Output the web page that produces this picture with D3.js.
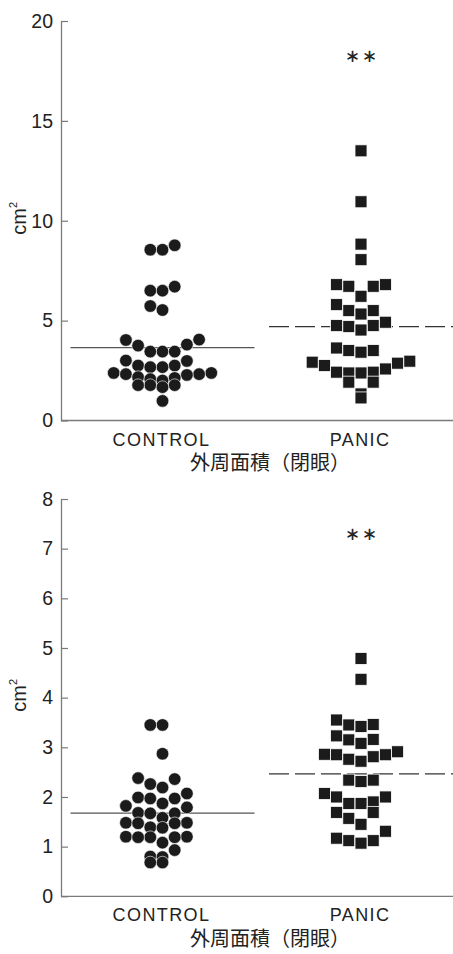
<!DOCTYPE html>
<html>
<head>
<meta charset="utf-8">
<script src="https://cdn.jsdelivr.net/npm/d3@7"></script>
<style>
  html, body { margin: 0; padding: 0; background: #fff; }
  svg { display: block; }
</style>
</head>
<body>
<svg id="chart" width="453" height="954"></svg>
<script>
// Groups on the horizontal axis
const groups = ["CONTROL", "PANIC"];
const axisTitle = "外周面積（閉眼）";
const unitLabel = "cm";
const unitPower = "2";
const significance = "＊";

// Upper panel: area values (cm²)
const upperControl = [8.77, 8.55, 8.55, 6.7, 6.5, 6.5, 5.73, 5.53,
  4.05, 4.03, 3.8, 3.75, 3.45, 3.45, 3.45,
  3.0, 2.98, 2.75, 2.75, 2.67, 2.67,
  2.38, 2.38, 2.32, 2.32, 2.28, 2.17, 2.13, 2.07, 2.0,
  1.77, 1.77, 1.77, 1.67, 0.98];
const upperPanic = [13.5, 10.95, 8.83, 8.05,
  6.8, 6.8, 6.72, 6.72, 6.22,
  5.8, 5.5, 5.5, 5.33,
  4.92, 4.75, 4.75, 4.7, 4.53,
  3.63, 3.5, 3.5, 3.42,
  2.97, 2.92, 2.87, 2.75, 2.58, 2.42, 2.42, 2.38, 2.38,
  1.92, 1.92, 1.33, 1.13];
const upperTicks = [0, 5, 10, 15, 20];

// Lower panel: area values (cm²)
const lowerControl = [3.45, 3.45, 2.87,
  2.38, 2.36, 2.26, 2.19,
  2.07, 1.99, 1.97, 1.97, 1.87,
  1.82, 1.79, 1.68, 1.67, 1.67, 1.58,
  1.48, 1.48, 1.47, 1.47, 1.39, 1.38,
  1.2, 1.2, 1.19, 1.19, 1.19, 1.08,
  0.93, 0.8, 0.79, 0.68, 0.68];
const lowerPanic = [4.79, 4.37,
  3.55, 3.46, 3.45, 3.42,
  3.23, 3.16, 3.15, 3.08,
  2.91, 2.86, 2.85, 2.85, 2.81, 2.76, 2.72,
  2.34, 2.34, 2.31,
  2.07, 2.0, 2.0, 1.9, 1.87, 1.87,
  1.69, 1.69, 1.57, 1.45,
  1.31, 1.17, 1.12, 1.12, 1.07];
const lowerTicks = [0, 1, 2, 3, 4, 5, 6, 7, 8];

// ---- layout ----
const svg = d3.select("#chart");
const AXIS_X = 61, RIGHT = 453;
const MARK = 12;        // marker size, px
const STEP = 12.2;      // column spacing in the swarm, px
const ROW_SPAN = 12.1;  // values closer than this (px) share a row
const MEAN_HALF = 92;   // half-width of the mean line
const INK = "#1b1b1b";
const AXIS_COL = "#7a7a7a";

const x = d3.scalePoint().domain(groups).range([162.5, 361]);

// Row-based swarm: points are grouped into horizontal rows, and inside a row
// the smallest values sit in the middle, alternating outwards left/right.
function swarm(values, y) {
  const pts = values.map(v => ({ v, py: y(v) })).sort((a, b) => a.py - b.py);
  const rows = [];
  let cur = null;
  for (const p of pts) {
    if (!cur || p.py - cur[0].py >= ROW_SPAN) { cur = [p]; rows.push(cur); }
    else cur.push(p);
  }
  const slot = k => (k === 0 ? 0 : (k % 2 === 1 ? -(k + 1) / 2 : k / 2));
  rows.forEach(r => {
    r.slice().sort((a, b) => a.v - b.v).forEach((p, i) => { p.col = slot(i); });
  });
  return pts;
}

function panel(cfg) {
  const g = svg.append("g");
  const y = d3.scaleLinear().domain([0, cfg.max]).range([cfg.bottom, cfg.top]);

  // y axis with inward ticks
  const yAxis = d3.axisLeft(y).tickValues(cfg.ticks).tickFormat(d3.format("d"))
    .tickSizeInner(-7).tickSizeOuter(0).tickPadding(8);
  const ga = g.append("g").attr("transform", `translate(${AXIS_X},0)`).call(yAxis);
  ga.select(".domain").attr("stroke", AXIS_COL).attr("stroke-width", 1.3);
  ga.selectAll(".tick line").attr("stroke", AXIS_COL).attr("stroke-width", 1.2);
  ga.selectAll(".tick text")
    .attr("font-family", "'Liberation Sans', Arial, sans-serif")
    .attr("font-size", 19.5).attr("fill", "#222");

  // x baseline
  g.append("line")
    .attr("x1", AXIS_X).attr("x2", RIGHT)
    .attr("y1", y(0)).attr("y2", y(0))
    .attr("stroke", AXIS_COL).attr("stroke-width", 1.3);

  // unit label
  const ul = g.append("text")
    .attr("transform", `translate(26,${(cfg.top + cfg.bottom) / 2 + 14}) rotate(-90)`)
    .attr("font-family", "'Liberation Sans', Arial, sans-serif")
    .attr("font-size", 20).attr("fill", "#222");
  ul.append("tspan").text(unitLabel);
  ul.append("tspan").attr("font-size", 11).attr("dy", -9).text(unitPower);

  // group labels
  g.selectAll("text.grp").data(groups).join("text")
    .attr("class", "grp")
    .attr("x", d => x(d) - 1)
    .attr("y", y(0) + 25)
    .attr("text-anchor", "middle")
    .attr("font-family", "'Liberation Sans', Arial, sans-serif")
    .attr("font-size", 18)
    .attr("letter-spacing", "1.4px")
    .attr("fill", "#222")
    .text(d => d);

  g.append("text")
    .attr("x", 270).attr("y", y(0) + 41)
    .attr("text-anchor", "middle")
    .attr("dominant-baseline", "central")
    .attr("font-family", "'Noto Sans CJK JP', sans-serif")
    .attr("font-size", 20).attr("fill", "#222")
    .text(axisTitle);

  // mean lines
  const mc = d3.mean(cfg.control), mp = d3.mean(cfg.panic);
  g.append("line")
    .attr("x1", x("CONTROL") - MEAN_HALF).attr("x2", x("CONTROL") + MEAN_HALF)
    .attr("y1", y(mc)).attr("y2", y(mc))
    .attr("stroke", "#555").attr("stroke-width", 1.1);
  g.append("line")
    .attr("x1", x("PANIC") - MEAN_HALF).attr("x2", x("PANIC") + MEAN_HALF)
    .attr("y1", y(mp)).attr("y2", y(mp))
    .attr("stroke", "#333").attr("stroke-width", 1.1)
    .attr("stroke-dasharray", "20 6");

  // control: circles
  g.append("g").selectAll("circle").data(swarm(cfg.control, y)).join("circle")
    .attr("cx", d => x("CONTROL") + d.col * STEP)
    .attr("cy", d => d.py)
    .attr("r", MARK / 2 + 0.3)
    .attr("fill", INK).attr("stroke", "#fff").attr("stroke-width", 0.6);

  // panic: squares
  g.append("g").selectAll("rect").data(swarm(cfg.panic, y)).join("rect")
    .attr("x", d => x("PANIC") + d.col * STEP - MARK / 2)
    .attr("y", d => d.py - MARK / 2)
    .attr("width", MARK).attr("height", MARK)
    .attr("fill", INK).attr("stroke", "#fff").attr("stroke-width", 0.8);

  // significance marks above the PANIC group
  g.selectAll("text.sig").data([-8.6, 8.6]).join("text")
    .attr("class", "sig")
    .attr("x", d => x("PANIC") + d)
    .attr("y", cfg.sigY)
    .attr("text-anchor", "middle")
    .attr("dominant-baseline", "central")
    .attr("font-family", "'Noto Sans CJK JP', sans-serif")
    .attr("font-size", 14).attr("fill", "#222")
    .attr("stroke", "#222").attr("stroke-width", 0.7)
    .text(significance);
}

panel({ control: upperControl, panic: upperPanic, max: 20, ticks: upperTicks,
        top: 21, bottom: 420.5, sigY: 55 });
panel({ control: lowerControl, panic: lowerPanic, max: 8, ticks: lowerTicks,
        top: 499, bottom: 896.3, sigY: 533 });
</script>
</body>
</html>
